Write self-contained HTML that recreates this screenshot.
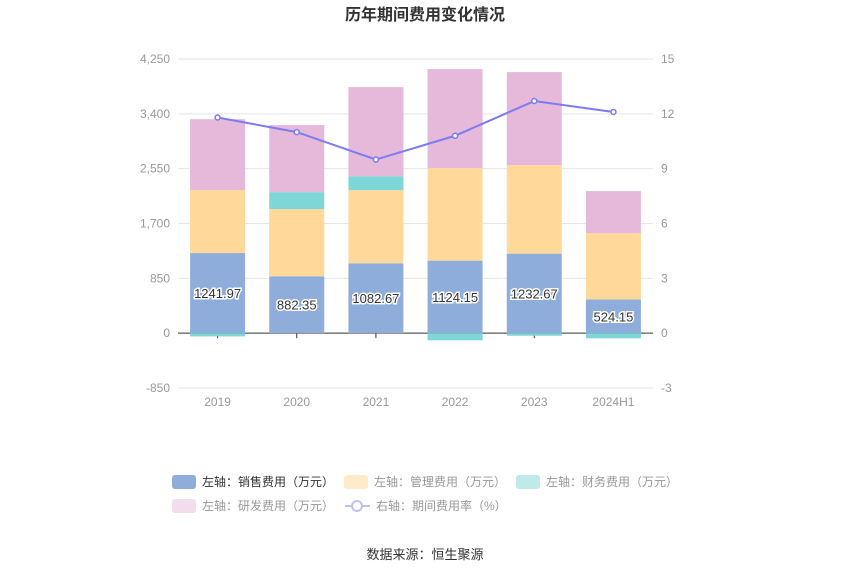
<!DOCTYPE html>
<html><head><meta charset="utf-8"><style>
body{margin:0;background:#fff;font-family:"Liberation Sans","Noto Sans CJK SC",sans-serif;}
svg text{font-family:"Liberation Sans","Noto Sans CJK SC",sans-serif;}
</style></head><body>
<svg id="c" width="850" height="575">
<text x="425" y="20" text-anchor="middle" font-size="16" font-weight="bold" fill="#333">历年期间费用变化情况</text>
<g id="grid"></g><g id="bars"></g><g id="line"></g>
<g font-size="12">
<rect x="172" y="475" width="24" height="14" rx="3" fill="#8eaddb"/>
<text x="202" y="486" fill="#333">左轴：销售费用（万元）</text>
<rect x="344" y="475" width="24" height="14" rx="3" fill="#ffebc9"/>
<text x="374" y="486" fill="#999">左轴：管理费用（万元）</text>
<rect x="516" y="475" width="24" height="14" rx="3" fill="#c0eaea"/>
<text x="546" y="486" fill="#999">左轴：财务费用（万元）</text>
<rect x="172" y="499" width="24" height="14" rx="3" fill="#f3dcec"/>
<text x="202" y="510" fill="#999">左轴：研发费用（万元）</text>
<line x1="345" y1="506" x2="370" y2="506" stroke="#c0c2f7" stroke-width="2"/>
<circle cx="357" cy="506" r="5" fill="#fff" stroke="#c0c2f7" stroke-width="2"/>
<text x="376" y="510" fill="#999">右轴：期间费用率（%）</text>
</g>
<text x="425" y="559" text-anchor="middle" font-size="13" fill="#333">数据来源：恒生聚源</text>
</svg>
<script>
const categories=["2019","2020","2021","2022","2023","2024H1"];
const sales=[1241.97,882.35,1082.67,1124.15,1232.67,524.15];
const mgmt=[975,1040,1134,1434,1372,1026];
const fin=[-50,264,217,-110,-40,-80];
const rd=[1100,1039,1380,1535,1442,652];
const rate=[11.8,11.0,9.5,10.8,12.7,12.1];
const leftTicks=[-850,0,850,1700,2550,3400,4250];
const rightTicks=[-3,0,3,6,9,12,15];
const NS="http://www.w3.org/2000/svg";
const X0=178,X1=653,Y0=59,Y1=388;
const yL=v=>Y1-(v+850)/5100*(Y1-Y0);
const yR=v=>Y1-(v+3)/18*(Y1-Y0);
const bw=(X1-X0)/categories.length;
const xc=i=>X0+bw*(i+0.5);
function mk(t,a,p){const e=document.createElementNS(NS,t);for(const k in a)e.setAttribute(k,a[k]);p.appendChild(e);return e;}
const g=document.getElementById('grid');
leftTicks.forEach((t,i)=>{
 const y=yL(t);
 const l=mk('line',{x1:X0,x2:X1,y1:y,y2:y,stroke:t===0?'#333':'#e6e6e6'},g);
 
 
 const tx=mk('text',{x:X0-8,y:y+4,'text-anchor':'end','font-size':12,fill:'#999'},g);tx.textContent=t.toLocaleString('en-US');
 
 
 const tr=mk('text',{x:X1+8,y:yR(rightTicks[i])+4,'font-size':12,fill:'#999'},g);tr.textContent=rightTicks[i];
 
 
});
const b=document.getElementById('bars');
categories.forEach((c,i)=>{
 const x=xc(i)-27.5;
 const tk=mk('line',{x1:xc(i),x2:xc(i),y1:yL(0),y2:yL(0)+5,stroke:'#333'},g);
 
 
 const lb=mk('text',{x:xc(i),y:406,'text-anchor':'middle','font-size':12,fill:'#999'},g);lb.textContent=c;
 
 
 let pos=0,neg=0;
 [[sales,'#8eaddb','bar-sales'],[mgmt,'#ffd89a','bar-mgmt'],[fin,'#7fd6d6','bar-fin'],[rd,'#e6b8d9','bar-rd']].forEach(([arr,col,nm])=>{
  const v=arr[i];let a,bb;
  if(v>=0){a=pos;bb=pos+v;pos=bb;}else{a=neg+v;bb=neg;neg=a;}
  const r=mk('rect',{x:x,width:55,y:yL(bb),height:yL(a)-yL(bb),fill:col},b);
  
  
 });
 const t=mk('text',{x:xc(i),y:(yL(0)+yL(sales[i]))/2+5,'text-anchor':'middle','font-size':13,fill:'#333',stroke:'#fff','stroke-width':3,'paint-order':'stroke'},b);
 t.textContent=sales[i];
 
 
});
const L=document.getElementById('line');
const p=mk('polyline',{points:rate.map((v,i)=>xc(i)+','+yR(v)).join(' '),fill:'none',stroke:'#7b7cf0','stroke-width':2},L);


rate.forEach((v,i)=>{
 const c=mk('circle',{cx:xc(i),cy:yR(v),r:2.5,fill:'#fff',stroke:'#7b7cf0','stroke-width':1.5},L);
 
 
});
</script>
</body></html>
